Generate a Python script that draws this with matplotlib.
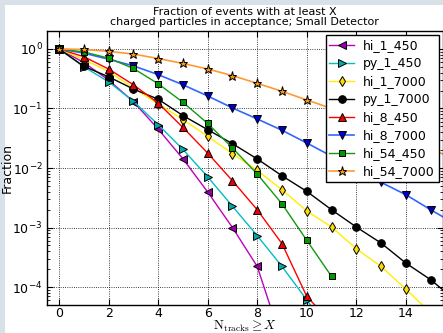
import matplotlib
matplotlib.use("Agg")
import matplotlib.pyplot as plt
from matplotlib.patches import Rectangle

# ---- data ----
x_vals = list(range(0, 17))

hi_1_450 = [1.0, 0.59, 0.30, 0.13, 0.045, 0.0143, 0.00395, 0.00100, 0.000222, 1.2e-5]
py_1_450 = [1.0, 0.50, 0.28, 0.132, 0.0535, 0.0205, 0.0071, 0.00228, 0.00073, 0.000222, 6.1e-5, 1.6e-5]
hi_1_7000 = [1.0, 0.66, 0.42, 0.22, 0.12, 0.065, 0.034, 0.0174, 0.0091, 0.0043, 0.0019,
             0.00102, 0.00044, 0.000222, 9.25e-5, 3.7e-5]
py_1_7000 = [1.0, 0.51, 0.34, 0.212, 0.143, 0.076, 0.044, 0.0256, 0.0142, 0.0074, 0.00405,
             0.00199, 0.00102, 0.000548, 0.000253, 0.000133, 6.0e-5]
hi_8_450 = [1.0, 0.74, 0.46, 0.25, 0.123, 0.048, 0.0178, 0.0061, 0.00199, 0.000535, 6.97e-5, 2.5e-5]
hi_8_7000 = [1.0, 0.85, 0.67, 0.52, 0.37, 0.25, 0.162, 0.102, 0.0666, 0.043, 0.0263,
             0.0158, 0.0095, 0.00574, 0.00356, 0.00199, 0.00115]
hi_54_450 = [1.0, 0.89, 0.70, 0.47, 0.26, 0.127, 0.056, 0.0217, 0.0079, 0.0025, 0.00061, 0.000151]
hi_54_7000 = [1.0, 0.98, 0.91, 0.82, 0.69, 0.57, 0.46, 0.356, 0.264, 0.194, 0.139,
              0.100, 0.069, 0.047, 0.032, 0.021, 0.014]

series_names = ["hi_1_450", "py_1_450", "hi_1_7000", "py_1_7000",
                "hi_8_450", "hi_8_7000", "hi_54_450", "hi_54_7000"]
series_values = [hi_1_450, py_1_450, hi_1_7000, py_1_7000,
                 hi_8_450, hi_8_7000, hi_54_450, hi_54_7000]

title_text = "Fraction of events with at least X\ncharged particles in acceptance; Small Detector"
x_ticks = [0, 2, 4, 6, 8, 10, 12, 14]

# ---- styles ----
styles = [
    dict(color="#bf00bf", marker="<", mfc="#9900aa", ms=5.5, lw=1.0),
    dict(color="#00bfbf", marker=">", mfc="#00aaaa", ms=5.5, lw=1.0),
    dict(color="#ffee00", marker="d", mfc="#ffdd00", ms=5.5, lw=1.0),
    dict(color="#000000", marker="o", mfc="#000000", ms=5.5, lw=1.0),
    dict(color="#ff0000", marker="^", mfc="#ee0000", ms=5.5, lw=1.0),
    dict(color="#3366ff", marker="v", mfc="#0000cc", ms=5.5, lw=1.2),
    dict(color="#119911", marker="s", mfc="#009900", ms=5.0, lw=1.0),
    dict(color="#ff9933", marker="*", mfc="#ff9900", ms=6.5, lw=1.2),
]

plt.rcParams["mathtext.fontset"] = "cm"
plt.rcParams["font.family"] = ["DejaVu Sans"]

fig = plt.figure(figsize=(4.43, 3.33), dpi=100, facecolor="#d7e1e7")
fig.patches.append(Rectangle((5 / 443, 0), 1, 1 - 5 / 333, transform=fig.transFigure,
                             facecolor="white", edgecolor="none", zorder=-10))
ax = fig.add_axes([46.7 / 443, 28 / 333, (443 - 46.7) / 443, (305 - 31) / 333])

for name, vals, st in zip(series_names, series_values, styles):
    ax.plot(x_vals[:len(vals)], vals, color=st["color"], lw=st["lw"],
            marker=st["marker"], markersize=st["ms"], markerfacecolor=st["mfc"],
            markeredgecolor="black", markeredgewidth=0.7, label=name)

ax.set_yscale("log")
ax.set_xlim(-0.5, 15.5)
ax.set_ylim(5e-5, 2.0)
ax.set_xticks(x_ticks)
ax.grid(True, which="major", color="black", linestyle=":", linewidth=0.6)
ax.tick_params(which="both", direction="in", top=True, right=True, labelsize=9)
ax.tick_params(which="major", length=4, width=0.8, pad=3)
ax.tick_params(which="minor", length=2, width=0.6)
ax.tick_params(axis="x", which="major", pad=1.5)
for sp in ax.spines.values():
    sp.set_linewidth(1.0)

ax.set_title(title_text, fontsize=8, linespacing=1.05, pad=4)
ax.set_xlabel(r"$\mathrm{N_{tracks}} \geq X$", fontsize=9.5)
ax.xaxis.set_label_coords(0.5, -0.051)
ax.xaxis.label.set_va("top")
ax.set_ylabel("Fraction", fontsize=9)
ax.yaxis.set_label_coords(-0.083, 0.5)

leg = ax.legend(loc="upper right", fontsize=9, numpoints=1, handlelength=2.0,
                labelspacing=0.4, borderaxespad=0.35, fancybox=False,
                framealpha=1, edgecolor="black", handletextpad=0.7, borderpad=0.3)
leg.get_frame().set_linewidth(1.0)

fig.savefig("out.png", dpi=100, facecolor=fig.get_facecolor())
